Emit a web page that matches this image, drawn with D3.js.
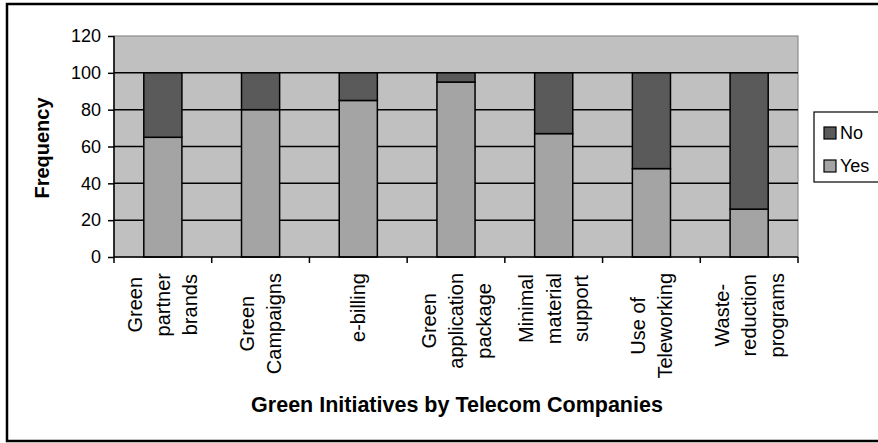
<!DOCTYPE html>
<html>
<head>
<meta charset="utf-8">
<script src="https://cdn.jsdelivr.net/npm/d3@7"></script>
<style>
  html, body { margin: 0; padding: 0; background: #fff; }
  svg { display: block; font-family: "Liberation Sans", Arial, sans-serif; }
</style>
</head>
<body>
<svg id="chart" width="878" height="443"></svg>
<script>
// ---- data ----
const categories = ["Green partner brands", "Green Campaigns", "e-billing", "Green application package",
                    "Minimal material support", "Use of Teleworking", "Waste-reduction programs"];
const categoryLines = [["Green", "partner", "brands"], ["Green", "Campaigns"], ["e-billing"],
                       ["Green", "application", "package"], ["Minimal", "material", "support"],
                       ["Use of", "Teleworking"], ["Waste-", "reduction", "programs"]];
const yesValues = [65, 80, 85, 95, 67, 48, 26];
const noValues  = [35, 20, 15, 5, 33, 52, 74];
const seriesNames = ["Yes", "No"];
const yTicks = [0, 20, 40, 60, 80, 100, 120];
const gridValues = [20, 40, 60, 80, 100];
const xTitle = "Green Initiatives by Telecom Companies";
const yTitle = "Frequency";

// ---- layout ----
const plot = { left: 114, right: 798, top: 36, bottom: 257 };
const colors = { Yes: "#a4a4a4", No: "#5a5a5a" };

const svg = d3.select("#chart");

// outer frame
svg.append("rect").attr("x", 7).attr("y", 4).attr("width", 900).attr("height", 437)
  .attr("fill", "#fff").attr("stroke", "#000").attr("stroke-width", 2.5);

const x = d3.scaleBand().domain(categories).range([plot.left, plot.right])
  .paddingInner(0.61).paddingOuter(0.305);
const xb = d3.scaleBand().domain(categories).range([plot.left, plot.right]).padding(0);
const y = d3.scaleLinear().domain([0, 120]).range([plot.bottom, plot.top]);

// plot area
svg.append("rect").attr("x", plot.left).attr("y", y(120))
  .attr("width", plot.right - plot.left).attr("height", y(0) - y(120))
  .attr("fill", "#c0c0c0").attr("stroke", "#8c8c8c").attr("stroke-width", 1.2);

// gridlines
svg.append("g").selectAll("line").data(gridValues).join("line")
  .attr("x1", plot.left).attr("x2", plot.right)
  .attr("y1", d => y(d)).attr("y2", d => y(d))
  .attr("stroke", "#000").attr("stroke-width", 1.5);

// stacked bars
const table = categories.map((c, i) => ({ category: c, Yes: yesValues[i], No: noValues[i] }));
const stacked = d3.stack().keys(seriesNames)(table);
svg.append("g").selectAll("g").data(stacked).join("g")
  .attr("fill", d => colors[d.key])
  .selectAll("rect").data(d => d).join("rect")
  .attr("x", d => x(d.data.category))
  .attr("width", x.bandwidth())
  .attr("y", d => y(d[1]))
  .attr("height", d => y(d[0]) - y(d[1]))
  .attr("stroke", "#000").attr("stroke-width", 1.5);

// y axis
const yAxis = svg.append("g").attr("transform", `translate(${plot.left},0)`)
  .call(d3.axisLeft(y).tickValues(yTicks).tickSize(6).tickPadding(7));
yAxis.select(".domain").remove();
yAxis.selectAll(".tick line").attr("stroke", "#000").attr("stroke-width", 1.5);
yAxis.selectAll(".tick text").attr("font-size", "18px").attr("fill", "#000")
  .attr("font-family", "Liberation Sans, Arial, sans-serif");
svg.append("line").attr("x1", plot.left).attr("x2", plot.left)
  .attr("y1", y(120)).attr("y2", y(0)).attr("stroke", "#000").attr("stroke-width", 1.5);

// x axis line + boundary ticks
svg.append("line").attr("x1", plot.left).attr("x2", plot.right)
  .attr("y1", y(0)).attr("y2", y(0)).attr("stroke", "#000").attr("stroke-width", 1.5);
const boundaries = categories.map(c => xb(c)).concat([xb(categories[categories.length - 1]) + xb.step()]);
svg.append("g").selectAll("line").data(boundaries).join("line")
  .attr("x1", d => d).attr("x2", d => d)
  .attr("y1", y(0)).attr("y2", y(0) + 6)
  .attr("stroke", "#000").attr("stroke-width", 1.5);

// category labels (rotated, wrapped)
const lineGap = 27.5;
const labelTop = 273;
const catG = svg.append("g").attr("font-size", "20px").attr("fill", "#000");
categoryLines.forEach((lines, i) => {
  const cx = xb(categories[i]) + xb.step() / 2;
  const texts = lines.map((ln, j) => {
    const lx = cx + (j - (lines.length - 1) / 2) * lineGap;
    return catG.append("text").text(ln)
      .attr("text-anchor", "middle")
      .attr("dominant-baseline", "central")
      .attr("data-x", lx);
  });
  const maxLen = d3.max(texts, t => t.node().getComputedTextLength());
  const cy = labelTop + maxLen / 2;
  texts.forEach(t => t.attr("transform", `translate(${t.attr("data-x")},${cy}) rotate(-90)`));
});

// axis titles
svg.append("text").text(xTitle)
  .attr("x", 457).attr("y", 412).attr("text-anchor", "middle")
  .attr("font-size", "21.5px").attr("font-weight", "bold").attr("fill", "#000");
svg.append("text").text(yTitle)
  .attr("transform", "translate(49,148) rotate(-90)").attr("text-anchor", "middle")
  .attr("font-size", "20px").attr("font-weight", "bold").attr("fill", "#000");

// legend
const legend = svg.append("g");
legend.append("rect").attr("x", 814).attr("y", 112).attr("width", 80).attr("height", 70)
  .attr("fill", "#fff").attr("stroke", "#000").attr("stroke-width", 1.2);
const legendItems = ["No", "Yes"];
legendItems.forEach((k, i) => {
  const cyL = 133 + i * 33;
  legend.append("rect").attr("x", 824).attr("y", cyL - 6).attr("width", 12).attr("height", 12)
    .attr("fill", colors[k]).attr("stroke", "#000").attr("stroke-width", 1.2);
  legend.append("text").text(k).attr("x", 840).attr("y", cyL)
    .attr("dominant-baseline", "central").attr("font-size", "18px").attr("fill", "#000");
});
</script>
</body>
</html>
